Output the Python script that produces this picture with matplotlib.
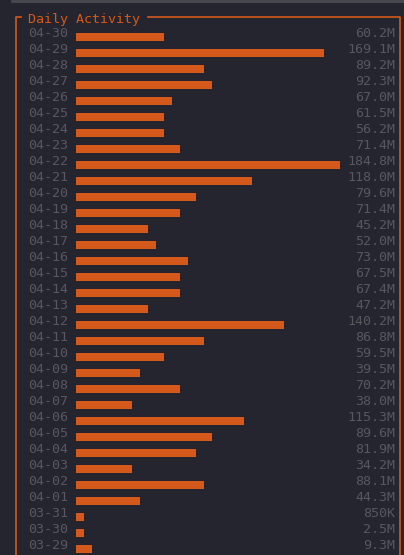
import math
import matplotlib
matplotlib.use("Agg")
import matplotlib.pyplot as plt

dates = ["04-30", "04-29", "04-28", "04-27", "04-26", "04-25", "04-24", "04-23",
         "04-22", "04-21", "04-20", "04-19", "04-18", "04-17", "04-16", "04-15",
         "04-14", "04-13", "04-12", "04-11", "04-10", "04-09", "04-08", "04-07",
         "04-06", "04-05", "04-04", "04-03", "04-02", "04-01", "03-31", "03-30",
         "03-29"]
values = [60.2, 169.1, 89.2, 92.3, 67.0, 61.5, 56.2, 71.4,
          184.8, 118.0, 79.6, 71.4, 45.2, 52.0, 73.0, 67.5,
          67.4, 47.2, 140.2, 86.8, 59.5, 39.5, 70.2, 38.0,
          115.3, 89.64, 81.9, 34.2, 88.1, 44.3, 0.85, 2.5,
          9.3]
value_labels = ["60.2M", "169.1M", "89.2M", "92.3M", "67.0M", "61.5M", "56.2M", "71.4M",
                "184.8M", "118.0M", "79.6M", "71.4M", "45.2M", "52.0M", "73.0M", "67.5M",
                "67.4M", "47.2M", "140.2M", "86.8M", "59.5M", "39.5M", "70.2M", "38.0M",
                "115.3M", "89.6M", "81.9M", "34.2M", "88.1M", "44.3M", "850K", "2.5M",
                "9.3M"]
title = "Daily Activity"

bg = "#25252f"
orange = "#d4591a"
gray = "#57585e"
font = "DejaVu Sans Mono"
fs = 9.6

# terminal-style bars: whole character cells, max width 33 cells
max_cells = 33
cells = [math.ceil(v / max(values) * max_cells) for v in values]
rows = list(range(len(dates)))

fig = plt.figure(figsize=(4.04, 5.55), dpi=100, facecolor=bg)

# frame / title layer in pixel units
deco = fig.add_axes([0, 0, 1, 1])
deco.set_xlim(0, 404)
deco.set_ylim(555, 0)
deco.axis("off")
deco.set_facecolor(bg)
deco.plot([12, 404], [0.8, 0.8], color="#4a4a50", lw=2)
deco.plot([15.5, 15.5, 20.5], [555, 16.5, 16.5], color=orange, lw=1.2)
deco.plot([148, 399.5, 399.5], [16.5, 16.5, 555], color=orange, lw=1.2)
deco.text(28, 22.5, title, color=orange, family=font, fontsize=fs, va="baseline", ha="left")

# chart layer: x in cells, y in rows
ax = fig.add_axes([0, 0, 1, 1])
ax.patch.set_alpha(0)
ax.axis("off")
ax.set_xlim(-76 / 8, (404 - 76) / 8)
ax.set_ylim((555 - 37) / 16, -37 / 16)

ax.barh(rows, cells, height=0.5, left=0, color=orange)
for i in rows:
    ax.text(-6, i, dates[i], color=gray, family=font, fontsize=fs, va="baseline", ha="left")
    ax.text(39.9, i, value_labels[i], color=gray, family=font, fontsize=fs, va="baseline", ha="right")

fig.savefig("out.png", dpi=100, facecolor=bg)
